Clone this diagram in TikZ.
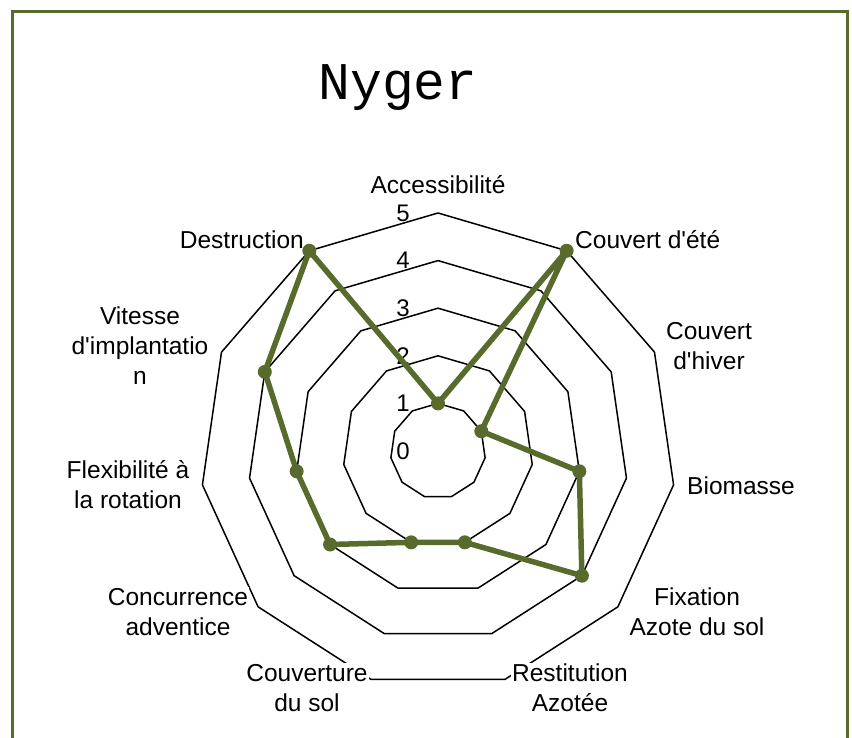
\documentclass[tikz,border=0pt]{standalone}
\usepackage{fontspec}
\setmainfont{Liberation Sans}
\setmonofont{Liberation Mono}
\usetikzlibrary{positioning}
\definecolor{vertnyger}{RGB}{88,107,45}

\begin{document}
\begin{tikzpicture}[x=1pt,y=1pt,
  anneau/.style={black,line width=1.5pt,line join=round},
  etiquette/.style={font=\fontsize{24.5}{30}\selectfont,align=center,fill=white,inner sep=1pt},
  valeur/.style={font=\fontsize{24}{24}\selectfont,inner sep=0pt},
  serie/.style={vertnyger,line width=5.5pt,line join=round},
  marque/.style={circle,fill=vertnyger,inner sep=0pt,minimum size=14pt}]
\useasboundingbox (0,0) rectangle (852,738);

%cadre du graphique
\draw [vertnyger,line width=3pt] (12,-10) -- (12,726) -- (847,726) -- (847,-10);

%titre
\node [font=\ttfamily\fontsize{53}{53}\selectfont] (titre) at (398,650) {Nyger};

\coordinate (centre) at (438,287);
\begin{scope}[shift={(centre)}]
%anneaux de 1 a 5
\foreach \r in {1,...,5}
	\draw [anneau] (90:\r*47.6) \foreach \i in {1,...,10}{ -- ({90-\i*360/11}:\r*47.6)} -- cycle;

%graduation
\foreach \r in {0,...,5}
	\node [valeur] (v\r) at (-35,\r*47.6) {\r};

%noms des axes
\node [etiquette] (acces) at (0,266) {Accessibilit\'e};
\node [etiquette,anchor=west] (ete) at (136,211) {Couvert d\textquotesingle\'et\'e};
\node [etiquette] (hiver) at (271,105) {Couvert\\d\textquotesingle hiver};
\node [etiquette] (biomasse) at (303,-35) {Biomasse};
\node [etiquette] (fixation) at (259,-161) {Fixation\\Azote du sol};
\node [etiquette] (restitution) at (132,-237) {Restitution\\Azot\'ee};
\node [etiquette] (couverture) at (-131,-237) {Couverture\\du sol};
\node [etiquette] (concurrence) at (-260,-161) {Concurrence\\adventice};
\node [etiquette] (flexibilite) at (-310,-34) {Flexibilit\'e \`a\\la rotation};
\node [etiquette] (vitesse) at (-298,105) {Vitesse\\d\textquotesingle implantatio\\n};
\node [etiquette,anchor=east] (destruction) at (-133,211) {Destruction};

%valeurs de la serie
\foreach \v [count=\i from 0] in {1,5,1,3,4,2,2,3,3,4,5}
	\coordinate (p\i) at ({90-\i*360/11}:\v*47.6);
\draw [serie] (p0) \foreach \i in {1,...,10}{ -- (p\i)} -- cycle;
\foreach \i in {0,...,10}
	\node [marque] (m\i) at (p\i) {};
\end{scope}
\end{tikzpicture}
\end{document}
